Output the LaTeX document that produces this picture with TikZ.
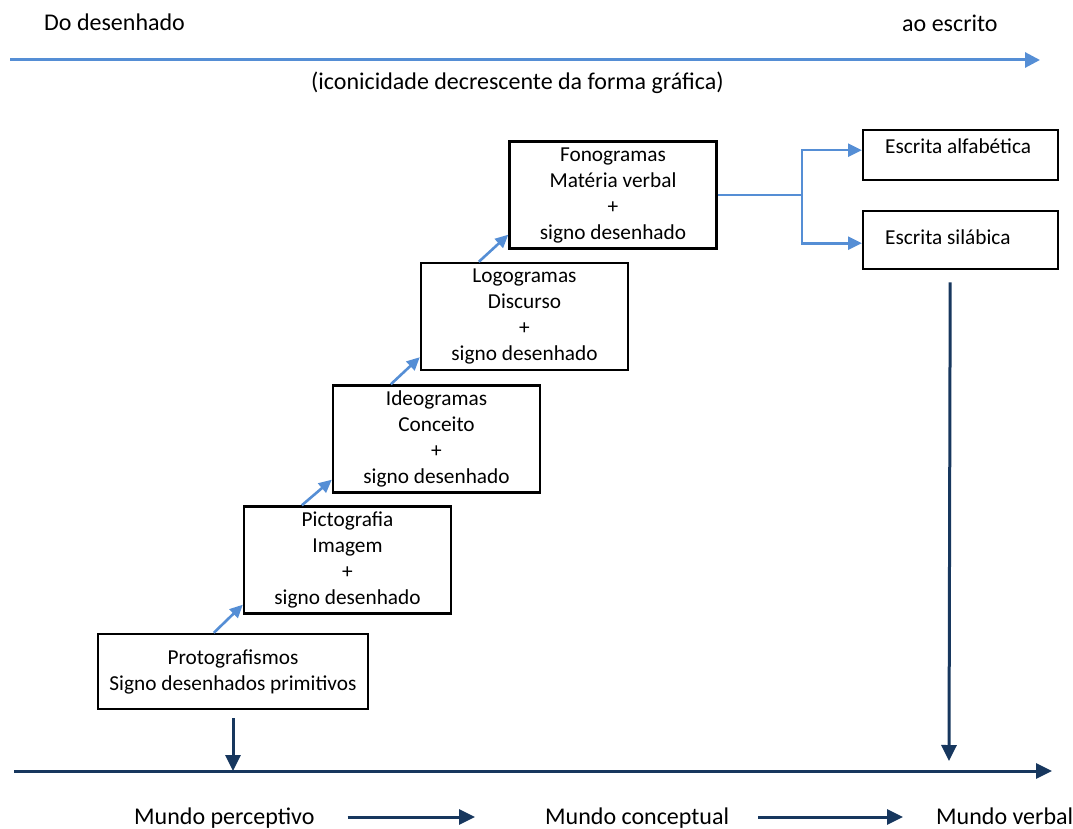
\documentclass[tikz,border=0pt]{standalone}
\usepackage{fontspec}
\setmainfont{Carlito}
\usetikzlibrary{arrows.meta}

\definecolor{lightblue}{RGB}{85,142,213}
\definecolor{navy}{RGB}{23,55,94}

\begin{document}
\begin{tikzpicture}
  [x=1pt,y=-1pt,every node/.style={inner sep=0pt,font=\fontsize{21.3}{26}\selectfont}]

  \tikzstyle{box} = [draw,line width=2.4pt,align=center,minimum width=207pt,minimum height=107pt]
  \tikzstyle{side} = [draw,line width=2.4pt,align=flush left,anchor=north west,inner xsep=22pt,text width=151pt]
  \tikzstyle{big} = [font=\fontsize{24}{28}\selectfont,anchor=base west]

  \useasboundingbox (0,0) rectangle (1073,829);

  \node[box,minimum width=270pt,minimum height=75pt] (proto) at (233,671.5) {Protografismos\\Signo desenhados primitivos};
  \node[box] (picto) at (347.5,560)   {Pictografia\\Imagem\\+\\signo desenhado};
  \node[box] (ideo)  at (436.5,439)   {Ideogramas\\Conceito\\+\\signo desenhado};
  \node[box] (logo)  at (524.5,316.5) {Logogramas\\Discurso\\+\\signo desenhado};
  \node[box] (fono)  at (613,195)     {Fonogramas\\Matéria verbal\\+\\signo desenhado};

  \node[side,text height=23pt,text depth=27pt] (alfa)  at (862,129) {Escrita alfabética};
  \node[side,text height=33pt,text depth=25pt] (silab) at (862,210) {Escrita silábica};

  \node[big] (from) at (44,31)  {Do desenhado};
  \node[big] (to)   at (902,32) {ao escrito};
  \node[big] (icon) at (311,90) {(iconicidade decrescente da forma gráfica)};

  \node[big] (perc) at (134,824) {Mundo perceptivo};
  \node[big] (conc) at (545,824) {Mundo conceptual};
  \node[big] (verb) at (936,824) {Mundo verbal};

  \coordinate (topL)  at (10,60);
  \coordinate (topR)  at (1040,60);
  \coordinate (botL)  at (14,771);
  \coordinate (botR)  at (1052,771);
  \coordinate (split) at (802,195);
  \coordinate (hit)   at (949,761);

  % top axis and steps
  \draw[-{Triangle[length=15pt,width=15pt]}, lightblue, line width=3pt] (topL) -- (topR);

  \path[-{Triangle[length=13pt,width=12pt]}, lightblue, line width=2.6pt]
        ([xshift=117pt]proto.north west) edge ([yshift=10pt]picto.south west)
        ([xshift=59pt]picto.north west)  edge ([yshift=14pt]ideo.south west)
        ([xshift=59pt]ideo.north west)   edge ([yshift=14pt]logo.south west)
        ([xshift=59pt]logo.north west)   edge ([yshift=15pt]fono.south west);

  \draw[lightblue, line width=2.6pt] (fono.east) -- (split);
  \draw[-{Triangle[length=14pt,width=13pt]}, lightblue, line width=2.6pt] (split) |- ([yshift=5pt]alfa.west);
  \draw[-{Triangle[length=14pt,width=13pt]}, lightblue, line width=2.6pt] (split) |- ([yshift=-3pt]silab.west);

  % bottom axis
  \path[-{Triangle[length=16pt,width=15pt]}, navy, line width=3pt]
        (botL) edge (botR)
        ([yshift=-8pt]proto.south) edge (proto.south |- botL)
        ([xshift=-10.5pt,yshift=-12pt]silab.south) edge (hit)
        ([xshift=33pt,yshift=7pt]perc.base east) edge ([xshift=-70pt,yshift=7pt]conc.base west)
        ([xshift=29pt,yshift=7pt]conc.base east) edge ([xshift=-33pt,yshift=7pt]verb.base west);
\end{tikzpicture}
\end{document}
